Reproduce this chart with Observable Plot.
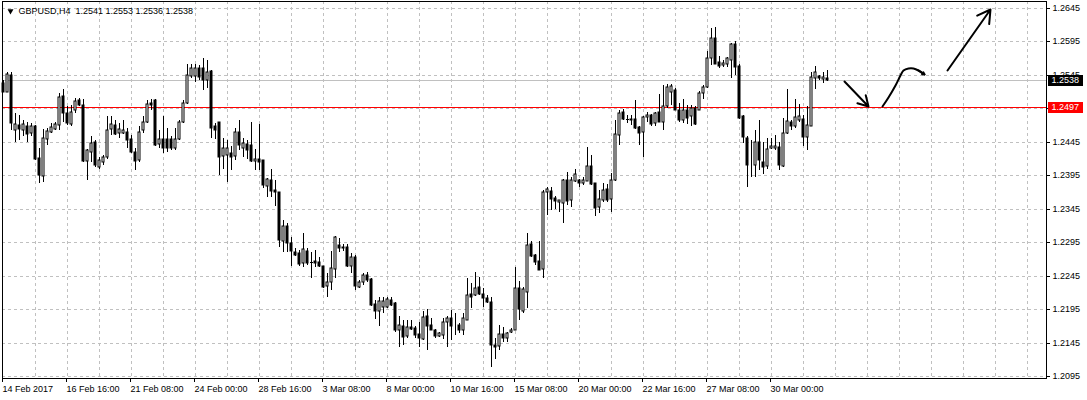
<!DOCTYPE html>
<html><head><meta charset="utf-8">
<script src="https://cdn.jsdelivr.net/npm/d3@7"></script>
<script src="https://cdn.jsdelivr.net/npm/@observablehq/plot@0.6"></script>
<style>html,body{margin:0;padding:0;background:#fff;} #chart svg{display:block}</style>
</head><body><div id="chart"></div>
<script>
const titleText = "GBPUSD,H4\u00a0 1.2541 1.2553 1.2536 1.2538";

const open = [
1.2533,1.2520,1.2545,1.2463,1.2470,1.2463,1.2469,1.2458,1.2468,1.2421,
1.2394,1.2449,1.2460,1.2464,1.2470,1.2513,1.2488,1.2472,1.2492,1.2507,
1.2500,1.2417,1.2430,1.2444,1.2408,1.2415,1.2423,1.2464,1.2470,1.2458,
1.2458,1.2459,1.2449,1.2430,1.2418,1.2462,1.2474,1.2503,1.2507,1.2442,
1.2449,1.2449,1.2449,1.2435,1.2449,1.2475,1.2503,1.2543,1.2543,1.2555,
1.2555,1.2537,1.2551,1.2468,1.2474,1.2424,1.2425,1.2428,1.2424,1.2460,
1.2435,1.2442,1.2440,1.2417,1.2420,1.2418,1.2379,1.2388,1.2373,1.2370,
1.2297,1.2319,1.2294,1.2281,1.2279,1.2264,1.2282,1.2266,1.2267,1.2266,
1.2259,1.2230,1.2236,1.2255,1.2291,1.2288,1.2288,1.2260,1.2273,1.2228,
1.2236,1.2246,1.2240,1.2202,1.2192,1.2198,1.2198,1.2209,1.2204,1.2163,
1.2170,1.2154,1.2168,1.2166,1.2158,1.2150,1.2185,1.2171,1.2164,1.2154,
1.2156,1.2175,1.2182,1.2169,1.2171,1.2163,1.2179,1.2217,1.2216,1.2228,
1.2218,1.2211,1.2205,1.2141,1.2140,1.2157,1.2151,1.2160,1.2164,1.2227,
1.2192,1.2221,1.2292,1.2276,1.2267,1.2255,1.2370,1.2371,1.2361,1.2355,
1.2354,1.2388,1.2358,1.2387,1.2388,1.2384,1.2387,1.2409,1.2383,1.2347,
1.2358,1.2374,1.2359,1.2388,1.2455,1.2489,1.2479,1.2479,1.2479,1.2467,
1.2459,1.2482,1.2485,1.2473,1.2489,1.2474,1.2499,1.2520,1.2522,1.2493,
1.2478,1.2492,1.2483,1.2495,1.2493,1.2518,1.2527,1.2570,1.2600,1.2565,
1.2560,1.2562,1.2568,1.2591,1.2558,1.2483,1.2450,1.2411,1.2410,1.2445,
1.2415,1.2409,1.2435,1.2436,1.2437,1.2409,1.2458,1.2475,1.2469,1.2478,
1.2479,1.2452,1.2469,1.2541,1.2543,1.2539,1.2541];
const high = [
1.2537,1.2550,1.2550,1.2488,1.2485,1.2477,1.2475,1.2473,1.2470,1.2435,
1.2464,1.2465,1.2473,1.2475,1.2518,1.2524,1.2498,1.2500,1.2510,1.2510,
1.2509,1.2434,1.2454,1.2448,1.2423,1.2425,1.2483,1.2483,1.2478,1.2473,
1.2478,1.2465,1.2455,1.2435,1.2468,1.2483,1.2507,1.2509,1.2509,1.2463,
1.2483,1.2465,1.2453,1.2465,1.2478,1.2507,1.2562,1.2562,1.2562,1.2560,
1.2570,1.2567,1.2552,1.2473,1.2475,1.2450,1.2448,1.2438,1.2465,1.2478,
1.2450,1.2448,1.2475,1.2434,1.2472,1.2418,1.2391,1.2404,1.2388,1.2370,
1.2328,1.2324,1.2303,1.2286,1.2283,1.2309,1.2286,1.2280,1.2283,1.2273,
1.2260,1.2249,1.2282,1.2304,1.2301,1.2292,1.2292,1.2279,1.2276,1.2238,
1.2249,1.2251,1.2241,1.2208,1.2213,1.2213,1.2213,1.2213,1.2205,1.2185,
1.2179,1.2179,1.2179,1.2169,1.2176,1.2192,1.2195,1.2182,1.2165,1.2161,
1.2182,1.2184,1.2194,1.2189,1.2174,1.2189,1.2241,1.2234,1.2251,1.2243,
1.2226,1.2216,1.2213,1.2152,1.2171,1.2168,1.2160,1.2166,1.2258,1.2237,
1.2228,1.2308,1.2297,1.2278,1.2296,1.2373,1.2378,1.2378,1.2364,1.2358,
1.2390,1.2400,1.2392,1.2405,1.2390,1.2393,1.2437,1.2425,1.2384,1.2373,
1.2383,1.2382,1.2398,1.2477,1.2493,1.2494,1.2485,1.2485,1.2507,1.2469,
1.2484,1.2490,1.2487,1.2490,1.2517,1.2530,1.2531,1.2531,1.2525,1.2503,
1.2509,1.2500,1.2500,1.2499,1.2521,1.2530,1.2580,1.2615,1.2616,1.2573,
1.2567,1.2572,1.2592,1.2596,1.2562,1.2485,1.2453,1.2448,1.2463,1.2478,
1.2444,1.2450,1.2450,1.2455,1.2444,1.2480,1.2524,1.2478,1.2509,1.2502,
1.2485,1.2498,1.2550,1.2558,1.2545,1.2550,1.2553];
const low = [
1.2519,1.2519,1.2463,1.2444,1.2448,1.2453,1.2445,1.2453,1.2418,1.2383,
1.2385,1.2440,1.2458,1.2462,1.2463,1.2475,1.2470,1.2469,1.2488,1.2499,
1.2415,1.2388,1.2415,1.2408,1.2405,1.2410,1.2420,1.2455,1.2455,1.2450,
1.2457,1.2435,1.2428,1.2403,1.2415,1.2458,1.2473,1.2493,1.2438,1.2435,
1.2428,1.2430,1.2433,1.2433,1.2448,1.2473,1.2502,1.2540,1.2535,1.2537,
1.2522,1.2525,1.2450,1.2449,1.2395,1.2405,1.2385,1.2403,1.2418,1.2433,
1.2423,1.2420,1.2415,1.2403,1.2403,1.2376,1.2362,1.2362,1.2349,1.2288,
1.2280,1.2280,1.2259,1.2274,1.2259,1.2258,1.2261,1.2241,1.2258,1.2258,
1.2226,1.2213,1.2223,1.2241,1.2280,1.2282,1.2258,1.2249,1.2223,1.2226,
1.2231,1.2236,1.2200,1.2180,1.2169,1.2189,1.2197,1.2200,1.2160,1.2139,
1.2141,1.2151,1.2164,1.2151,1.2139,1.2149,1.2134,1.2163,1.2151,1.2153,
1.2150,1.2139,1.2148,1.2156,1.2159,1.2156,1.2178,1.2197,1.2214,1.2216,
1.2198,1.2204,1.2109,1.2120,1.2134,1.2146,1.2146,1.2159,1.2163,1.2179,
1.2189,1.2196,1.2273,1.2261,1.2253,1.2241,1.2336,1.2343,1.2344,1.2340,
1.2324,1.2350,1.2348,1.2385,1.2378,1.2380,1.2386,1.2380,1.2334,1.2339,
1.2355,1.2355,1.2340,1.2387,1.2440,1.2477,1.2473,1.2470,1.2464,1.2440,
1.2423,1.2475,1.2469,1.2469,1.2474,1.2463,1.2495,1.2500,1.2492,1.2475,
1.2473,1.2472,1.2469,1.2470,1.2492,1.2509,1.2525,1.2560,1.2561,1.2555,
1.2557,1.2557,1.2540,1.2545,1.2479,1.2443,1.2377,1.2393,1.2393,1.2403,
1.2397,1.2405,1.2434,1.2433,1.2403,1.2408,1.2457,1.2463,1.2465,1.2475,
1.2439,1.2433,1.2468,1.2524,1.2537,1.2533,1.2536];
const close = [
1.2520,1.2546,1.2473,1.2472,1.2464,1.2472,1.2457,1.2469,1.2420,1.2395,
1.2450,1.2461,1.2467,1.2472,1.2512,1.2488,1.2473,1.2489,1.2506,1.2500,
1.2417,1.2433,1.2443,1.2410,1.2418,1.2423,1.2463,1.2472,1.2457,1.2464,
1.2462,1.2448,1.2430,1.2417,1.2460,1.2474,1.2502,1.2500,1.2440,1.2449,
1.2435,1.2435,1.2435,1.2449,1.2475,1.2503,1.2545,1.2555,1.2555,1.2542,
1.2537,1.2550,1.2466,1.2462,1.2423,1.2435,1.2435,1.2423,1.2460,1.2440,
1.2443,1.2433,1.2417,1.2420,1.2415,1.2380,1.2389,1.2372,1.2370,1.2298,
1.2319,1.2294,1.2282,1.2276,1.2262,1.2285,1.2264,1.2266,1.2264,1.2260,
1.2228,1.2236,1.2256,1.2303,1.2287,1.2287,1.2259,1.2273,1.2230,1.2236,
1.2246,1.2238,1.2201,1.2192,1.2207,1.2207,1.2210,1.2201,1.2163,1.2171,
1.2153,1.2168,1.2165,1.2156,1.2151,1.2183,1.2169,1.2164,1.2154,1.2159,
1.2176,1.2182,1.2169,1.2170,1.2163,1.2181,1.2216,1.2213,1.2227,1.2217,
1.2212,1.2206,1.2141,1.2139,1.2158,1.2151,1.2159,1.2164,1.2227,1.2195,
1.2225,1.2291,1.2274,1.2266,1.2253,1.2370,1.2374,1.2360,1.2357,1.2358,
1.2388,1.2357,1.2388,1.2397,1.2384,1.2388,1.2409,1.2382,1.2346,1.2359,
1.2373,1.2358,1.2388,1.2457,1.2488,1.2479,1.2479,1.2478,1.2465,1.2458,
1.2482,1.2485,1.2472,1.2488,1.2475,1.2499,1.2527,1.2528,1.2493,1.2478,
1.2492,1.2480,1.2495,1.2472,1.2518,1.2527,1.2570,1.2600,1.2562,1.2558,
1.2563,1.2570,1.2591,1.2557,1.2480,1.2452,1.2410,1.2410,1.2445,1.2418,
1.2408,1.2434,1.2438,1.2438,1.2410,1.2458,1.2476,1.2468,1.2482,1.2484,
1.2452,1.2470,1.2542,1.2550,1.2540,1.2542,1.2538];

const priceTicks = [1.2095,1.2145,1.2195,1.2245,1.2295,1.2345,1.2395,1.2445,1.2495,1.2545,1.2595,1.2645];
const dateTickBars = [0,16,32,48,64,80,96,112,128,144,160,176,192];
const dateTickLabels = ["14 Feb 2017","16 Feb 16:00","21 Feb 08:00","24 Feb 00:00","28 Feb 16:00","3 Mar 08:00","8 Mar 00:00","10 Mar 16:00","15 Mar 08:00","20 Mar 00:00","22 Mar 16:00","27 Mar 08:00","30 Mar 00:00"];
const gridBars = d3.range(8, 257, 8);
const bidPrice = 1.2538;
const levelPrice = 1.2497;

// hand-drawn annotation arrows (bar index, price)
const arrowStartBar = [210.2, 236.0];
const arrowStartPrice = [1.2536, 1.2553];
const arrowEndBar = [216.2, 246.7];
const arrowEndPrice = [1.2499, 1.2643];
const curveBar = [219.7, 221.3, 223.0, 224.2, 225.1, 226.3, 227.6, 228.8, 230.3];
const curvePrice = [1.2499, 1.2512, 1.2530, 1.2545, 1.2552, 1.2556, 1.2556, 1.2553, 1.2547];

const candles = open.map((o, i) => ({i, o, h: high[i], l: low[i], c: close[i]}));
const arrows = arrowStartBar.map((x1, k) => ({x1, y1: arrowStartPrice[k], x2: arrowEndBar[k], y2: arrowEndPrice[k]}));
const curve = curveBar.map((x, k) => ({x, y: curvePrice[k]}));
const n = curve.length;
const curveHead = [{x1: curve[n-2].x, y1: curve[n-2].y, x2: curve[n-1].x, y2: curve[n-1].y}];

const xDomain = [-0.25, 260.75];
const yDomain = [1.209194, 1.265546];
const labelOf = new Map(dateTickBars.map((b, k) => [b, dateTickLabels[k]]));
const boxX1 = xDomain[1] + 0.5, boxX2 = xDomain[1] + 9.25, boxText = xDomain[1] + 1.2;

const chart = Plot.plot({
  width: 1087, height: 400,
  marginTop: 1, marginBottom: 22, marginLeft: 2, marginRight: 41,
  style: {fontFamily: "'Liberation Sans', Arial, sans-serif", fontSize: "9px", background: "white", color: "black"},
  x: {domain: xDomain, round: true, axis: null},
  y: {domain: yDomain, round: true, axis: null},
  marks: [
    Plot.ruleY(priceTicks, {stroke: "#c0c0c0", strokeDasharray: "3,3"}),
    Plot.ruleX(gridBars, {stroke: "#c0c0c0", strokeDasharray: "3,3"}),
    Plot.ruleY([bidPrice], {stroke: "#c0c0c0"}),
    Plot.ruleY([levelPrice], {stroke: "#ff0000"}),
    Plot.ruleX(candles, {x: "i", y1: "l", y2: "h", stroke: "black"}),
    Plot.rect(candles.filter(d => d.c > d.o), {x1: d => d.i - 0.25, x2: d => d.i + 0.25, y1: "o", y2: "c", fill: "white", stroke: "black"}),
    Plot.rect(candles.filter(d => d.c < d.o), {x1: d => d.i - 0.25, x2: d => d.i + 0.25, y1: "o", y2: "c", fill: "black", stroke: "black"}),
    Plot.ruleY(candles.filter(d => d.c === d.o), {x1: d => d.i - 0.375, x2: d => d.i + 0.375, y: "c", stroke: "black"}),
    Plot.arrow(arrows, {x1: "x1", y1: "y1", x2: "x2", y2: "y2", stroke: "black", strokeWidth: 2, headLength: 11, headAngle: 60}),
    Plot.line(curve, {x: "x", y: "y", curve: "catmull-rom", stroke: "black", strokeWidth: 2}),
    Plot.arrow(curveHead, {x1: "x1", y1: "y1", x2: "x2", y2: "y2", stroke: "black", strokeWidth: 2, headLength: 10, headAngle: 60}),
    Plot.frame({stroke: "black"}),
    Plot.axisY(priceTicks, {anchor: "right", tickSize: 3, tickPadding: 3, tickFormat: d => d.toFixed(4), fill: "black", stroke: "black"}),
    Plot.axisX(dateTickBars, {anchor: "bottom", tickSize: 4, tickPadding: 3, tickFormat: b => labelOf.get(b), textAnchor: "start", dx: -1, fill: "black", stroke: "black"}),
    Plot.ruleY([bidPrice], {x1: boxX1, x2: boxX2, stroke: "black", strokeWidth: 11}),
    Plot.text([bidPrice], {x: boxText, y: d => d, text: d => d.toFixed(4), fill: "white", textAnchor: "start"}),
    Plot.ruleY([levelPrice], {x1: boxX1, x2: boxX2, stroke: "#ff0000", strokeWidth: 11}),
    Plot.text([levelPrice], {x: boxText, y: d => d, text: d => d.toFixed(4), fill: "white", textAnchor: "start"}),
    Plot.dot([0], {frameAnchor: "top-left", dx: 8, dy: 9.5, symbol: "triangle", rotate: 180, r: 2.2, fill: "black", stroke: null}),
    Plot.text([titleText], {frameAnchor: "top-left", dx: 16, dy: 6, lineAnchor: "top", textAnchor: "start", fill: "black"})
  ]
});
document.getElementById("chart").appendChild(chart);
</script>
</body></html>
